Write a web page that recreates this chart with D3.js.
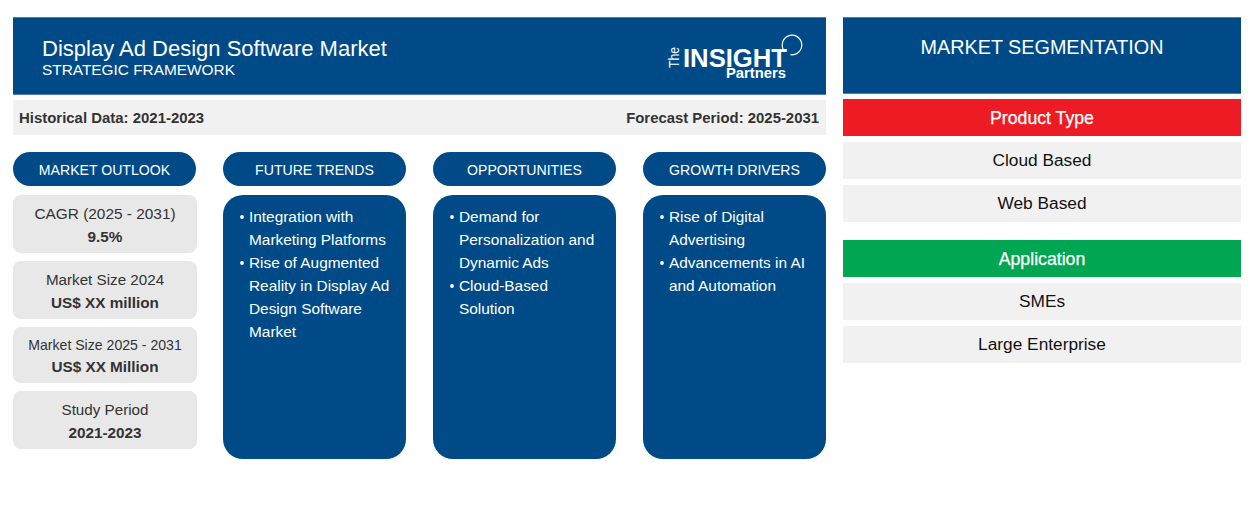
<!DOCTYPE html>
<html><head><meta charset="utf-8">
<script src="https://cdn.jsdelivr.net/npm/d3@7"></script>
<style>html,body{margin:0;padding:0;background:#fff}svg{display:block}text{font-family:"Liberation Sans",Arial,sans-serif}</style>
</head><body><svg id="c" width="1254" height="530"></svg>
<script>
const title = "Display Ad Design Software Market";
const subtitle = "STRATEGIC FRAMEWORK";
const historical = "Historical Data: 2021-2023";
const forecast = "Forecast Period: 2025-2031";
const columns = ["MARKET OUTLOOK","FUTURE TRENDS","OPPORTUNITIES","GROWTH DRIVERS"];
const outlookLabels = ["CAGR (2025 - 2031)","Market Size 2024","Market Size 2025 - 2031","Study Period"];
const outlookValues = ["9.5%","US$ XX million","US$ XX Million","2021-2023"];
const outlookSizes = [15.4,15.2,14.1,15.2];
const outlookTops = [195,261,327,391];
const outlookHeights = [58,58,56,58];
const outlookValueOffsets = [47,47,45,47];
const outlookLabelOffsets = [24,24,23,24];
const futureTrends = [["Integration with","Marketing Platforms"],["Rise of Augmented","Reality in Display Ad","Design Software","Market"]];
const opportunities = [["Demand for","Personalization and","Dynamic Ads"],["Cloud-Based","Solution"]];
const growthDrivers = [["Rise of Digital","Advertising"],["Advancements in AI","and Automation"]];
const segHeading = "MARKET SEGMENTATION";
const segGroups = [
  {name:"Product Type",color:"#ed1c24",top:99,items:["Cloud Based","Web Based"]},
  {name:"Application",color:"#00a651",top:240,items:["SMEs","Large Enterprise"]}
];
const BLUE="#004b87";
const svg=d3.select("#c");
const colW=183;
const x0=c=>13+columns.indexOf(c)*210;

// header
svg.append("rect").attr("x",13).attr("y",17.3).attr("width",813).attr("height",77.4).attr("fill",BLUE);
svg.append("text").attr("x",42).attr("y",56).attr("font-size",22).attr("fill","#fff").text(title);
svg.append("text").attr("x",42).attr("y",75).attr("font-size",15.4).attr("fill","#fff").text(subtitle);

// logo
const logo=svg.append("g").attr("fill","#fff");
logo.append("text").attr("transform","translate(679,68) rotate(-90)").attr("font-size",15).attr("textLength",21).attr("lengthAdjust","spacingAndGlyphs").text("The");
logo.append("text").attr("x",683).attr("y",66.5).attr("font-size",26.5).attr("font-weight","700").attr("textLength",104).attr("lengthAdjust","spacingAndGlyphs").text("INSIGHT");
logo.append("text").attr("x",726).attr("y",78).attr("font-size",14).attr("font-weight","700").attr("textLength",60).attr("lengthAdjust","spacingAndGlyphs").text("Partners");
logo.append("path").attr("d",d3.arc()({innerRadius:9.2,outerRadius:10.4,startAngle:-2.3,endAngle:3.3})).attr("transform","translate(792,45)");

// info bar
svg.append("rect").attr("x",13).attr("y",100).attr("width",813).attr("height",35).attr("fill","#f1f1f1");
svg.append("text").attr("x",19).attr("y",122.5).attr("font-size",14.95).attr("font-weight","700").attr("fill","#333").text(historical);
svg.append("text").attr("x",819).attr("y",122.5).attr("text-anchor","end").attr("font-size",14.9).attr("font-weight","700").attr("fill","#333").text(forecast);

// pills
const pills=svg.selectAll("g.pill").data(columns).join("g").attr("class","pill");
pills.append("rect").attr("x",d=>x0(d)).attr("y",152).attr("width",colW).attr("height",34).attr("rx",17).attr("fill",BLUE);
pills.append("text").attr("x",d=>x0(d)+colW/2).attr("y",174.6).attr("text-anchor","middle").attr("font-size",14.1).attr("fill","#fff").text(d=>d);

// outlook
const o=svg.selectAll("g.o").data(outlookLabels).join("g").attr("class","o");
o.append("rect").attr("x",13).attr("y",(d,i)=>outlookTops[i]).attr("width",184).attr("height",(d,i)=>outlookHeights[i]).attr("rx",8).attr("fill","#e8e8e8");
o.append("text").attr("x",105).attr("y",(d,i)=>outlookTops[i]+outlookLabelOffsets[i]).attr("text-anchor","middle").attr("font-size",(d,i)=>outlookSizes[i]).attr("fill","#333").text(d=>d);
o.append("text").attr("x",105).attr("y",(d,i)=>outlookTops[i]+outlookValueOffsets[i]).attr("text-anchor","middle").attr("font-size",15.3).attr("font-weight","700").attr("fill","#333").text((d,i)=>outlookValues[i]);

// cards
const cards=[[columns[1],futureTrends],[columns[2],opportunities],[columns[3],growthDrivers]];
cards.forEach(([col,bullets])=>{
  const x=x0(col);
  svg.append("rect").attr("x",x).attr("y",195).attr("width",colW).attr("height",264).attr("rx",20).attr("fill",BLUE);
  let line=0;
  bullets.forEach(lines=>{
    svg.append("circle").attr("cx",x+19).attr("cy",217+line*23).attr("r",1.9).attr("fill","#fff");
    lines.forEach(t=>{
      svg.append("text").attr("x",x+26).attr("y",222+line*23).attr("font-size",15.4).attr("fill","#fff").text(t);
      line++;
    });
  });
});

// segmentation
svg.append("rect").attr("x",843).attr("y",17.3).attr("width",398).attr("height",76.4).attr("fill",BLUE);
svg.append("text").attr("x",1042).attr("y",54).attr("text-anchor","middle").attr("font-size",19.8).attr("fill","#fff").text(segHeading);
segGroups.forEach(g=>{
  svg.append("rect").attr("x",843).attr("y",g.top).attr("width",398).attr("height",37).attr("fill",g.color);
  svg.append("text").attr("x",1042).attr("y",g.top+24.5).attr("text-anchor","middle").attr("font-size",17.7).attr("stroke","#fff").attr("stroke-width",0.25).attr("fill","#fff").text(g.name);
  g.items.forEach((t,i)=>{
    const y=g.top+43+i*43;
    svg.append("rect").attr("x",843).attr("y",y).attr("width",398).attr("height",37).attr("fill","#f1f1f1");
    svg.append("text").attr("x",1042).attr("y",y+24).attr("text-anchor","middle").attr("font-size",17.3).attr("fill","#111").text(t);
  });
});
</script></body></html>
